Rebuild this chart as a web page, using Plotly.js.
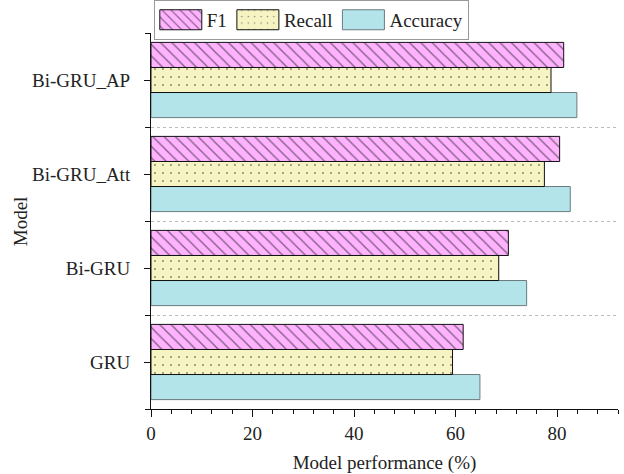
<!DOCTYPE html>
<html>
<head>
<meta charset="utf-8">
<script src="https://cdn.plot.ly/plotly-3.0.1.min.js"></script>
<style>html,body{margin:0;padding:0;background:#fff;}#chart{width:624px;height:474px;}</style>
</head>
<body>
<div id="chart"></div>
<script>
// Data (bottom to top)
const models = ["GRU", "Bi-GRU", "Bi-GRU_Att", "Bi-GRU_AP"];
const f1 = [61.5, 70.4, 80.5, 81.3];
const recall = [59.4, 68.5, 77.5, 78.8];
const accuracy = [64.8, 74.0, 82.6, 83.9];
const xTickVals = [0, 20, 40, 60, 80];

const pos = models.map((m, i) => i);
const font = "'Liberation Serif', 'Times New Roman', serif";

const traces = [
  {
    type: "bar", orientation: "h", name: "Accuracy", y: pos, x: accuracy,
    marker: { color: "#B3E4EA", line: { color: "#6B7B7D", width: 1 } }
  },
  {
    type: "bar", orientation: "h", name: "Recall", y: pos, x: recall,
    marker: { color: "#F7F4C4", line: { color: "#111", width: 1 },
      pattern: { shape: ".", fgcolor: "#111", bgcolor: "#F7F4C4", size: 8, solidity: 0.045, fillmode: "overlay" } }
  },
  {
    type: "bar", orientation: "h", name: "F1", y: pos, x: f1,
    marker: { color: "#FFB3FF", line: { color: "#111", width: 1 },
      pattern: { shape: "\\", fgcolor: "#111", bgcolor: "#FFB3FF", size: 8, solidity: 0.18, fillmode: "overlay" } }
  }
];

const layout = {
  width: 624, height: 474,
  margin: { l: 151, r: 6, t: 33, b: 65, autoexpand: false },
  paper_bgcolor: "#fff", plot_bgcolor: "#fff",
  font: { family: font, size: 19, color: "#222" },
  barmode: "group", bargap: 0.2, bargroupgap: 0,
  showlegend: true,
  legend: {
    orientation: "h", traceorder: "reversed",
    x: 0.006, xanchor: "left", y: 1.088, yanchor: "top",
    bordercolor: "#999", borderwidth: 1, bgcolor: "#fff",
    font: { family: font, size: 19, color: "#222" },
    itemwidth: 42
  },
  xaxis: {
    range: [0, 92], tickvals: xTickVals, ticks: "outside", ticklen: 7, tickwidth: 1, tickcolor: "#111",
    showline: true, linecolor: "#111", linewidth: 1, showgrid: false, zeroline: false,
    minor: { dtick: 4, tick0: 0, ticks: "outside", ticklen: 4, tickcolor: "#111", showgrid: false },
    tickfont: { family: font, size: 19, color: "#222" },
    title: { text: "Model performance (%)", font: { family: font, size: 19, color: "#222" }, standoff: 12 }
  },
  yaxis: {
    range: [-0.5, models.length - 0.5], tickvals: pos, ticktext: models,
    ticks: "outside", ticklen: 6, tickwidth: 1, tickcolor: "#111",
    showline: true, linecolor: "#111", linewidth: 1, showgrid: false, zeroline: false,
    ticklabelstandoff: 10,
    minor: { tick0: 0.5, dtick: 1, ticks: "outside", ticklen: 5, tickcolor: "#111",
      showgrid: true, gridcolor: "#bbb", griddash: "dot", gridwidth: 1 },
    tickfont: { family: font, size: 19, color: "#222" }
  },
  annotations: [
    { text: "Model", textangle: -90, xref: "paper", yref: "paper", x: -0.28, y: 0.5,
      xanchor: "center", yanchor: "middle", showarrow: false,
      font: { family: font, size: 19, color: "#222" } }
  ]
};

Plotly.newPlot("chart", traces, layout, { displayModeBar: false, staticPlot: true }).then(gd => {
  // enlarge legend swatches to wide rectangles like the reference
  const w = 42, h = 20;
  gd.querySelectorAll(".legend .legendpoints path").forEach(p => {
    p.setAttribute("d", "M" + (w / 2) + "," + (h / 2) + "H" + (-w / 2) + "V" + (-h / 2) + "H" + (w / 2) + "Z");
  });
});
</script>
</body>
</html>
